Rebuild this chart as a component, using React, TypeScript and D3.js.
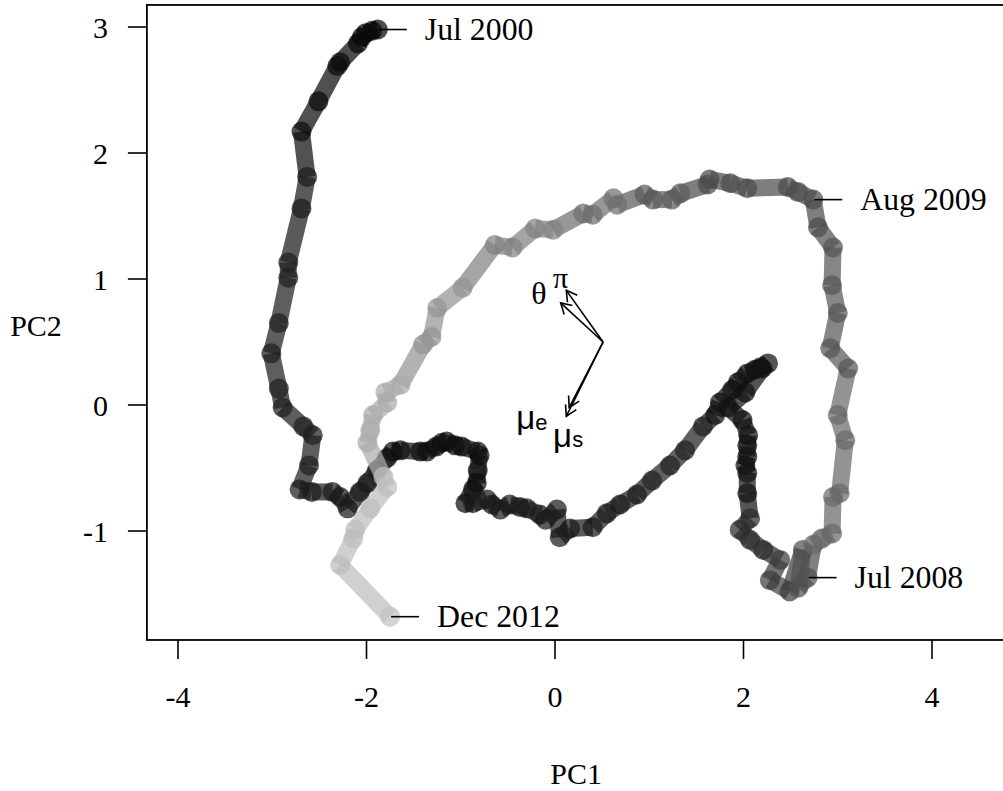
import React from "react";
import * as d3 from "d3";

// Monthly trajectory in PC space, Jul 2000 .. Dec 2012
const PC1: number[] = [
  -1.88, -1.94, -2.01, -2.05, -2.09, -2.28, -2.31, -2.51, -2.69, -2.63,
  -2.69, -2.83, -2.83, -2.93, -3.01, -2.93, -2.89, -2.67, -2.57, -2.61,
  -2.71, -2.58, -2.36, -2.28, -2.2, -2.07, -1.99, -1.89, -1.78, -1.72,
  -1.64, -1.43, -1.36, -1.26, -1.2, -1.15, -1.06, -0.99, -0.82, -0.8,
  -0.82, -0.83, -0.87, -0.95, -0.87, -0.72, -0.67, -0.58, -0.48, -0.37,
  -0.3, -0.16, -0.1, 0.02, 0.05, 0.16, 0.4, 0.55, 0.69, 0.87,
  1.03, 1.22, 1.38, 1.57, 1.7, 1.75, 1.88, 1.94, 2.04, 2.12,
  2.18, 2.26, 2.2, 2.02, 1.84, 1.99, 2.05, 2.04, 2.04, 2.02,
  2.04, 2.04, 2.07, 1.96, 2.07, 2.21, 2.39, 2.28, 2.49, 2.63,
  2.58, 2.68,
  2.74, 2.83, 2.94, 2.95, 3.02, 3.08, 3.0, 3.11,
  2.92, 3.0, 2.94, 2.95, 2.79, 2.74,
  2.58, 2.47, 2.04, 1.86,
  1.64, 1.62, 1.33, 1.24, 1.04, 0.95, 0.66, 0.62, 0.4, 0.3,
  -0.02, -0.21, -0.45, -0.64, -0.98, -1.25, -1.31, -1.4, -1.64, -1.8,
  -1.78, -1.93, -1.96, -1.99, -1.82, -1.78, -1.96, -2.12, -2.14, -2.28, -1.75,
];

const PC2: number[] = [
  2.98, 2.97, 2.95, 2.92, 2.87, 2.72, 2.69, 2.41, 2.17, 1.81,
  1.56, 1.13, 1.01, 0.65, 0.41, 0.13, -0.02, -0.17, -0.24, -0.48,
  -0.67, -0.69, -0.69, -0.73, -0.82, -0.69, -0.62, -0.52, -0.42, -0.37,
  -0.36, -0.37, -0.37, -0.33, -0.3, -0.29, -0.32, -0.33, -0.37, -0.4,
  -0.52, -0.62, -0.67, -0.78, -0.78, -0.75, -0.79, -0.83, -0.79, -0.81,
  -0.82, -0.87, -0.91, -0.83, -1.05, -0.98, -0.97, -0.86, -0.79, -0.71,
  -0.6, -0.48, -0.36, -0.17, -0.08, 0.02, 0.12, 0.18, 0.25, 0.28,
  0.3, 0.33, 0.29, 0.1, -0.02, -0.12, -0.24, -0.32, -0.41, -0.48,
  -0.54, -0.7, -0.9, -0.99, -1.07, -1.15, -1.23, -1.39, -1.48, -1.15,
  -1.45, -1.37,
  -1.11, -1.06, -1.02, -0.73, -0.7, -0.28, -0.08, 0.29,
  0.45, 0.73, 0.95, 1.25, 1.41, 1.63,
  1.69, 1.73, 1.72, 1.76,
  1.79, 1.75, 1.68, 1.63, 1.63, 1.67, 1.59, 1.64, 1.51, 1.52,
  1.39, 1.4, 1.25, 1.27, 0.93, 0.77, 0.54, 0.48, 0.16, 0.1,
  0.02, -0.08, -0.2, -0.3, -0.57, -0.65, -0.82, -0.99, -1.06, -1.27, -1.68,
];

// grey level (0 = black, 255 = white) of each month
const GRAY: number[] = [
  10, 10, 10, 10, 10, 12, 12, 12, 15, 28,
  28, 32, 32, 32, 32, 32, 32, 32, 32, 32,
  30, 28, 28, 28, 28, 25, 25, 25, 25, 15,
  15, 15, 15, 15, 15, 15, 15, 15, 15, 15,
  15, 15, 15, 15, 28, 28, 28, 28, 28, 28,
  28, 28, 28, 28, 28, 28, 28, 28, 28, 28,
  35, 35, 35, 35, 18, 18, 18, 18, 18, 18,
  18, 18, 18, 18, 18, 20, 20, 20, 20, 20,
  20, 20, 45, 45, 45, 45, 62, 62, 62, 80,
  80, 80,
  105, 105, 105, 105, 105, 105, 105, 88,
  88, 88, 88, 84, 76, 76,
  76, 76, 76, 76,
  76, 76, 92, 92, 92, 92, 112, 112, 112, 112,
  130, 130, 130, 130, 148, 148, 148, 148, 170, 170,
  172, 172, 172, 172, 190, 190, 190, 190, 190, 190, 195,
];

const DATE_LABELS: string[] = ["Jul 2000", "Jul 2008", "Aug 2009", "Dec 2012"];
const DATE_INDEX: number[] = [0, 91, 105, 140];

const X_TICKS: number[] = [-4, -2, 0, 2, 4];
const Y_TICKS: number[] = [-1, 0, 1, 2, 3];

// loading arrows (drawn from an origin inside the plot)
const ARROW_ORIGIN_X = 0.51;
const ARROW_ORIGIN_Y = 0.5;
const ARROW_TIP_X: number[] = [0.12, 0.06, 0.15, 0.12];
const ARROW_TIP_Y: number[] = [0.91, 0.81, -0.02, -0.09];

export default function App() {
  const W = 1003;
  const H = 791;
  const x = d3.scaleLinear().domain([-4, 4]).range([178, 932]);
  const y = d3.scaleLinear().domain([-1, 3]).range([531, 27]);
  const left = x(-4.33);
  const right = x(4.78);
  const top = y(3.175);
  const bottom = y(-1.865);
  const alpha = 0.72;
  const grey = (v: number) => d3.rgb(v, v, v).formatHex();
  const serif = "'Liberation Serif', 'Times New Roman', serif";
  const sans = "'Liberation Sans', Arial, sans-serif";
  const fs = 30;
  const fsDate = 31.8;

  const marks: JSX.Element[] = [];
  for (let i = 0; i < PC1.length; i++) {
    if (i > 0) {
      marks.push(
        <line
          key={"s" + i}
          x1={x(PC1[i - 1])}
          y1={y(PC2[i - 1])}
          x2={x(PC1[i])}
          y2={y(PC2[i])}
          stroke={grey(GRAY[i - 1])}
          strokeOpacity={alpha}
          strokeWidth={17}
          strokeLinecap="butt"
        />
      );
    }
    marks.push(
      <circle
        key={"p" + i}
        cx={x(PC1[i])}
        cy={y(PC2[i])}
        r={10}
        fill={grey(GRAY[i])}
        fillOpacity={alpha}
      />
    );
  }

  const ox = x(ARROW_ORIGIN_X);
  const oy = y(ARROW_ORIGIN_Y);
  const arrows = ARROW_TIP_X.map((tx, i) => {
    const px = x(tx);
    const py = y(ARROW_TIP_Y[i]);
    const ang = Math.atan2(py - oy, px - ox);
    const L = 12;
    const a1 = ang + Math.PI - Math.PI / 6;
    const a2 = ang + Math.PI + Math.PI / 6;
    return (
      <g key={"a" + i} stroke="#000" strokeWidth={1.6} fill="none">
        <line x1={ox} y1={oy} x2={px} y2={py} />
        <polyline
          points={`${px + L * Math.cos(a1)},${py + L * Math.sin(a1)} ${px},${py} ${px + L * Math.cos(a2)},${py + L * Math.sin(a2)}`}
        />
      </g>
    );
  });

  return (
    <svg
      width={W}
      height={H}
      style={{ position: "absolute", left: 0, top: 0, background: "#fff" }}
    >
      <rect x={0} y={0} width={W} height={H} fill="#fff" />
      {marks}
      {arrows}
      {/* loading labels */}
      <text x={x(-0.17)} y={y(0.89)} fontFamily={serif} fontSize={32} textAnchor="middle" dominantBaseline="central">θ</text>
      <text x={x(0.06)} y={y(1.01)} fontFamily={serif} fontSize={30} textAnchor="middle" dominantBaseline="central">π</text>
      <text x={x(-0.41)} y={y(-0.1)} fontFamily={sans} fontSize={33} dominantBaseline="central">
        μ<tspan fontSize={22} dy={4}>e</tspan>
      </text>
      <text x={x(-0.02)} y={y(-0.24)} fontFamily={sans} fontSize={33} dominantBaseline="central">
        μ<tspan fontSize={22} dy={4}>s</tspan>
      </text>
      {/* date annotations */}
      {DATE_LABELS.map((lab, i) => {
        const px = x(PC1[DATE_INDEX[i]]);
        const py = y(PC2[DATE_INDEX[i]]);
        return (
          <g key={lab}>
            <line x1={px + 1} y1={py} x2={px + 29} y2={py} stroke="#000" strokeWidth={1.6} />
            <text x={px + 47} y={py} fontFamily={serif} fontSize={fsDate} dominantBaseline="central">
              {lab}
            </text>
          </g>
        );
      })}
      {/* box */}
      <rect x={left} y={top} width={right - left} height={bottom - top} fill="none" stroke="#000" strokeWidth={1.8} />
      {/* x axis */}
      {X_TICKS.map((t) => (
        <g key={"xt" + t}>
          <line x1={x(t)} x2={x(t)} y1={bottom} y2={bottom + 19} stroke="#000" strokeWidth={1.6} />
          <text x={x(t)} y={bottom + 57} fontFamily={serif} fontSize={fs} textAnchor="middle" dominantBaseline="central">
            {t}
          </text>
        </g>
      ))}
      {/* y axis */}
      {Y_TICKS.map((t) => (
        <g key={"yt" + t}>
          <line x1={left - 19} x2={left} y1={y(t)} y2={y(t)} stroke="#000" strokeWidth={1.6} />
          <text x={left - 39} y={y(t)} fontFamily={serif} fontSize={fs} textAnchor="end" dominantBaseline="central">
            {t}
          </text>
        </g>
      ))}
      <text x={(left + right) / 2} y={773} fontFamily={serif} fontSize={fs} textAnchor="middle" dominantBaseline="central">PC1</text>
      <text x={36} y={(top + bottom) / 2 + 3} fontFamily={serif} fontSize={fs} textAnchor="middle" dominantBaseline="central">PC2</text>
    </svg>
  );
}
